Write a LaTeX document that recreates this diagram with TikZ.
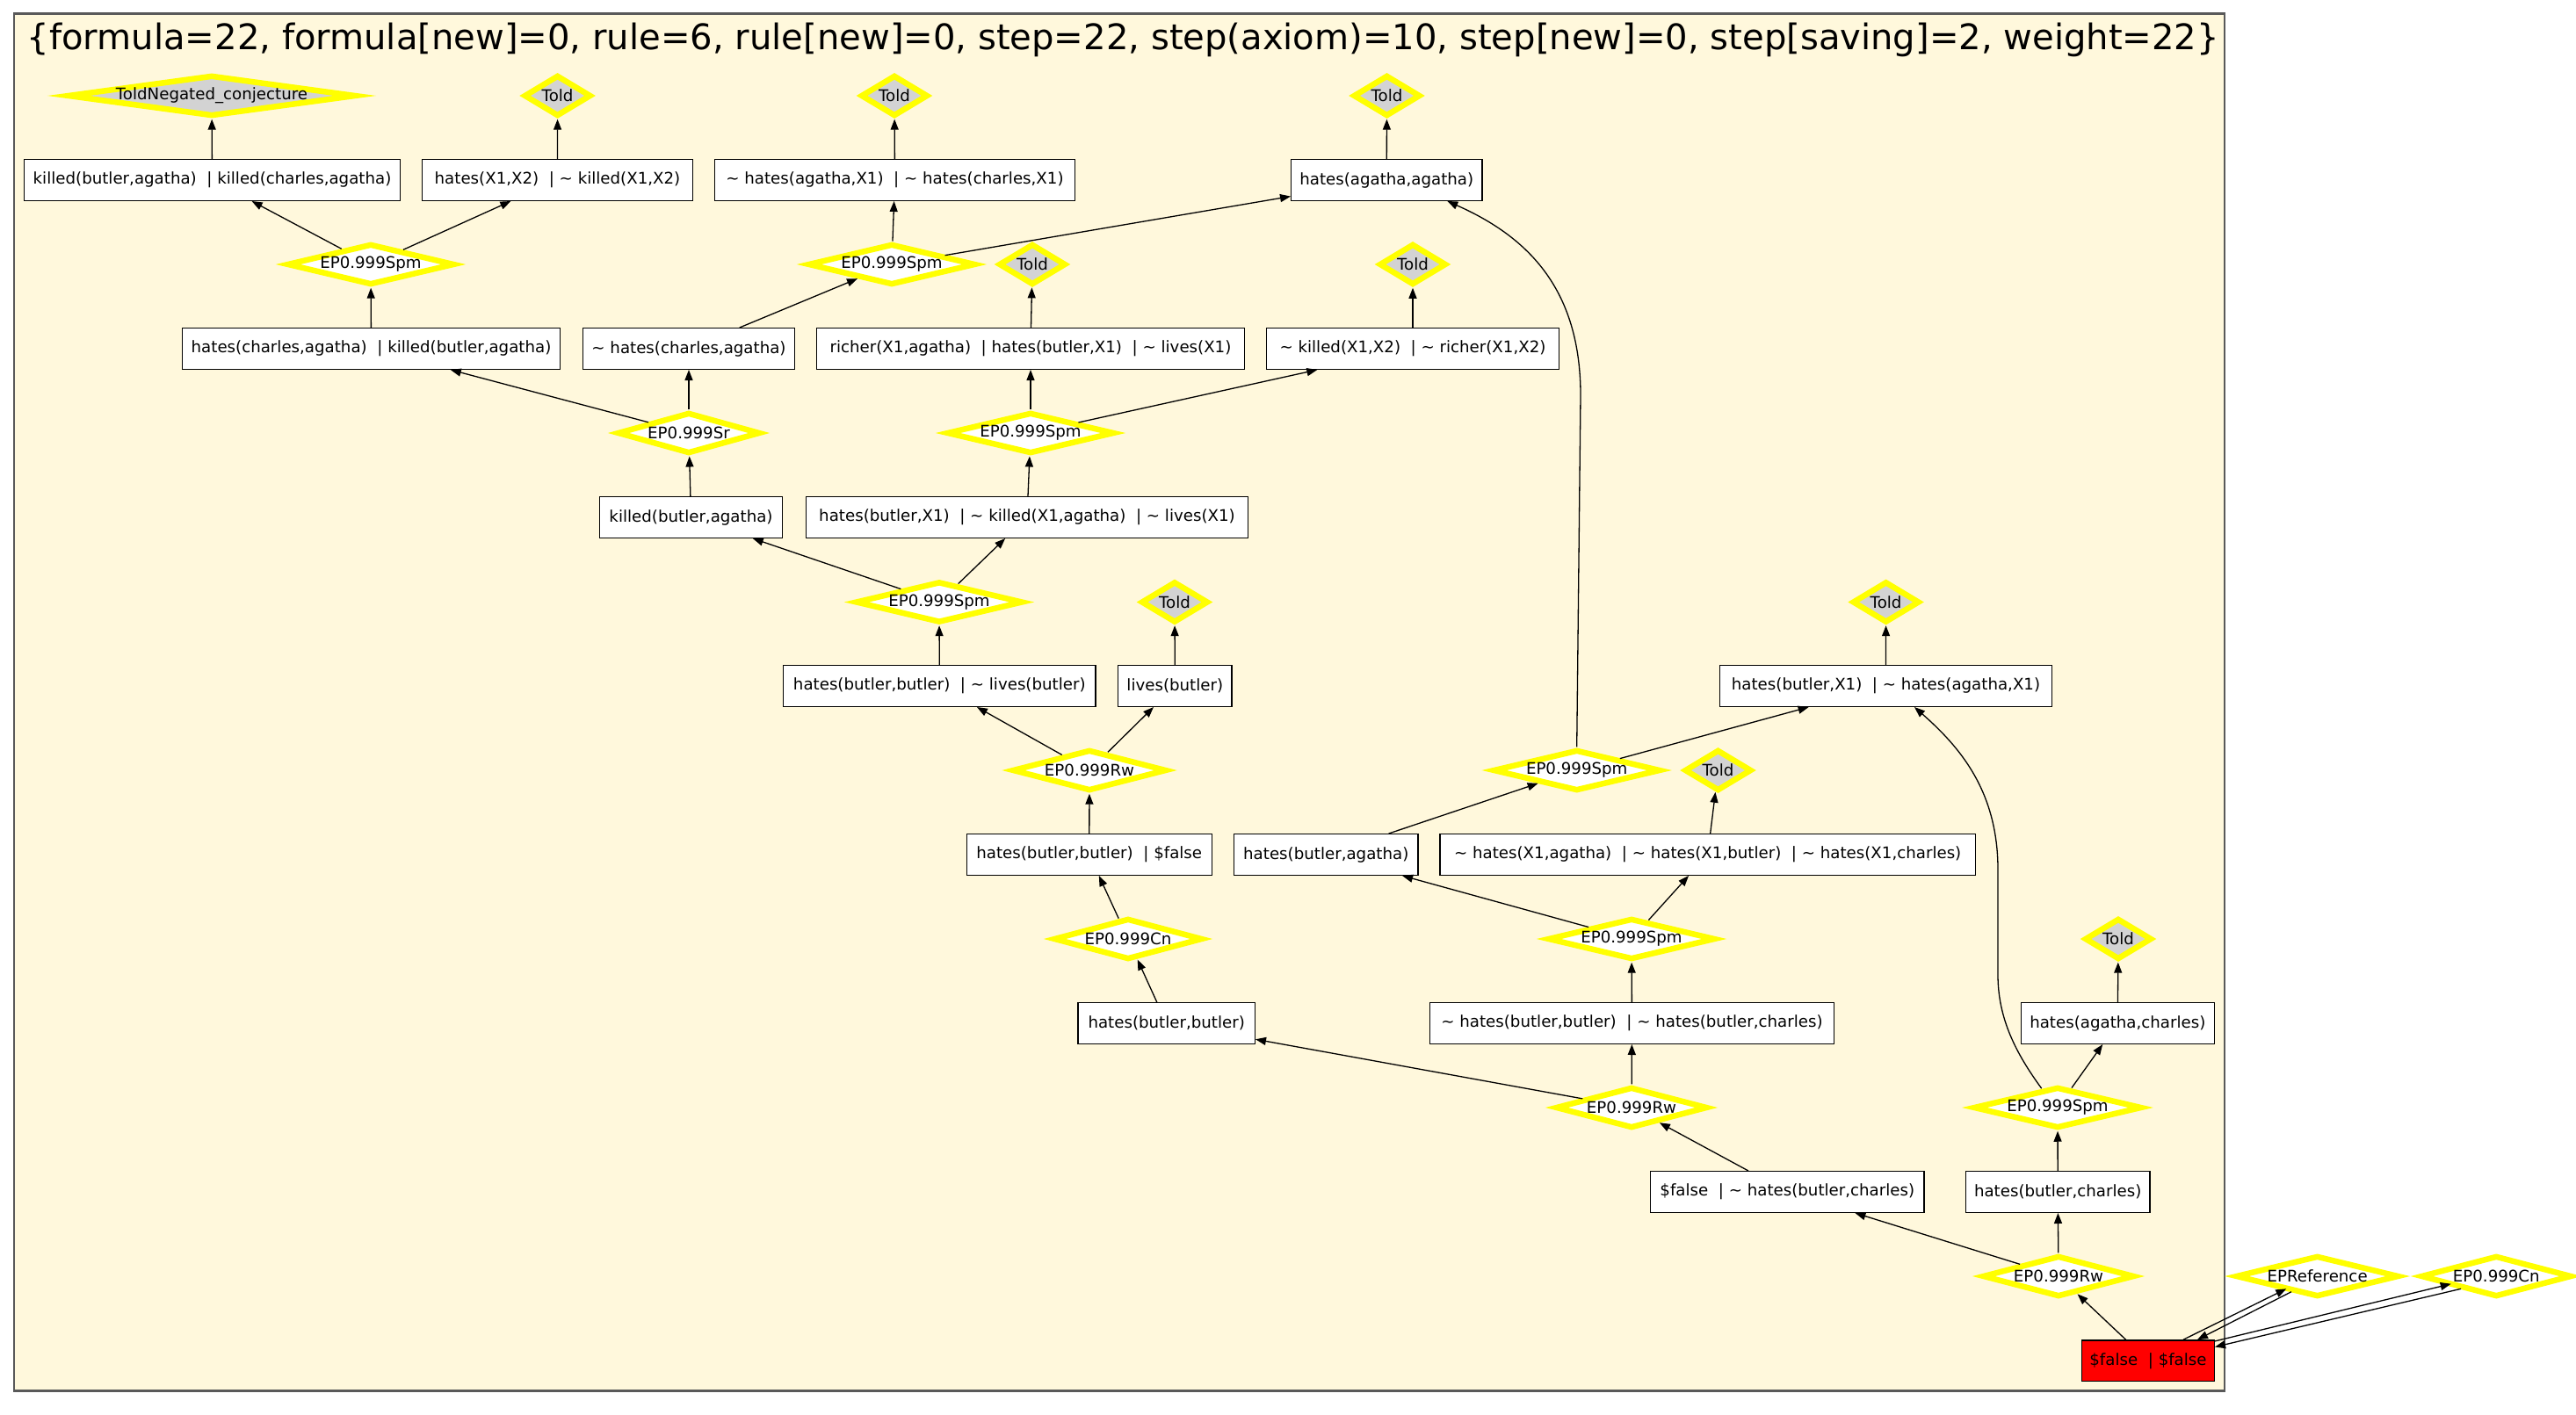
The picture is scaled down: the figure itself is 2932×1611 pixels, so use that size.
\documentclass[tikz,border=0pt]{standalone}
\usepackage{fontspec}
\setmainfont{DejaVu Sans}
\usetikzlibrary{shapes.geometric,arrows.meta}
\definecolor{bgc}{HTML}{FFF8DC}
\definecolor{frm}{HTML}{595959}
\definecolor{toldc}{HTML}{D3D3D3}
\definecolor{ylw}{HTML}{FFFF00}
\newcommand\lblfont{\fontsize{18.2}{22}\selectfont}
\newcommand\ttlfont{\fontsize{40.1}{46}\selectfont}
\newcommand\tld{\textasciitilde}
\begin{document}
\begin{tikzpicture}[x=1pt,y=-1pt,
  box/.style={draw=black,line width=1.3pt,fill=white,minimum height=46.7pt,inner sep=0pt,font=\lblfont},
  dia/.style={shape=diamond,draw=ylw,line width=6.5pt,inner sep=0pt,minimum height=47pt,
    label={[font=\lblfont,inner sep=0pt]center:#1}},
  ep/.style={dia={#1},fill=white},
  toldn/.style={dia={Told},fill=toldc,minimum width=76.6pt},
  arr/.style={-{Triangle[length=12pt,width=9pt]},line width=1.3pt,draw=black}]
\useasboundingbox (0,0) rectangle (2932,1611);
\fill[white] (0,0) rectangle (2932,1611);
\draw[frm,line width=2.4pt,fill=bgc] (16,15.7) rectangle (2532,1583.4);
\node[anchor=base west,font=\ttlfont,inner sep=0pt] (title) at (30.6,57)
  {\{formula=22, formula[new]=0, rule=6, rule[new]=0, step=22, step(axiom)=10, step[new]=0, step[saving]=2, weight=22\}};

% boxes
\node[box,minimum width=427.7pt] (b1) at (241.5,205) {killed(butler,agatha)\ \ | killed(charles,agatha)};
\node[box,minimum width=307.7pt] (b2) at (634.5,205) {hates(X1,X2)\ \ | \tld\ killed(X1,X2)};
\node[box,minimum width=409.7pt] (b3) at (1018.5,205) {\tld\ hates(agatha,X1)\ \ | \tld\ hates(charles,X1)};
\node[box,minimum width=217.2pt] (b4) at (1578.25,205) {hates(agatha,agatha)};
\node[box,minimum width=429.7pt] (b5) at (422.5,397) {hates(charles,agatha)\ \ | killed(butler,agatha)};
\node[box,minimum width=240.7pt] (b6) at (784,397) {\tld\ hates(charles,agatha)};
\node[box,minimum width=486.7pt] (b7) at (1173,397) {richer(X1,agatha)\ \ | hates(butler,X1)\ \ | \tld\ lives(X1)};
\node[box,minimum width=332.7pt] (b8) at (1608,397) {\tld\ killed(X1,X2)\ \ | \tld\ richer(X1,X2)};
\node[box,minimum width=207.7pt] (b9) at (786.5,589) {killed(butler,agatha)};
\node[box,minimum width=502.7pt] (b10) at (1169,589) {hates(butler,X1)\ \ | \tld\ killed(X1,agatha)\ \ | \tld\ lives(X1)};
\node[box,minimum width=355.3pt] (b11) at (1069.3,781) {hates(butler,butler)\ \ | \tld\ lives(butler)};
\node[box,minimum width=129.3pt] (b12) at (1337.3,781) {lives(butler)};
\node[box,minimum width=377.7pt] (b13) at (2146.5,781) {hates(butler,X1)\ \ | \tld\ hates(agatha,X1)};
\node[box,minimum width=279.2pt] (b14) at (1239.75,973) {hates(butler,butler)\ \ | \$false};
\node[box,minimum width=209.7pt] (b15) at (1509.25,973) {hates(butler,agatha)};
\node[box,minimum width=609.3pt] (b16) at (1943.7,973) {\tld\ hates(X1,agatha)\ \ | \tld\ hates(X1,butler)\ \ | \tld\ hates(X1,charles)};
\node[box,minimum width=201.3pt] (b17) at (1327.7,1165) {hates(butler,butler)};
\node[box,minimum width=459.7pt] (b18) at (1857.5,1165) {\tld\ hates(butler,butler)\ \ | \tld\ hates(butler,charles)};
\node[box,minimum width=220.1pt] (b19) at (2410.3,1165) {hates(agatha,charles)};
\node[box,minimum width=311.3pt] (b20) at (2034.3,1357) {\$false\ \ | \tld\ hates(butler,charles)};
\node[box,minimum width=209.5pt] (b21) at (2342.2,1357) {hates(butler,charles)};
\node[box,minimum width=150.7pt,fill=red] (b22) at (2445,1549.2) {\$false\ \ | \$false};

% diamonds
\node[dia={ToldNegated\_conjecture},fill=toldc,minimum width=328.6pt] (d1) at (241,109) {};
\node[toldn] (d2) at (634.6,109) {};
\node[toldn] (d3) at (1018,109) {};
\node[toldn] (d4) at (1578.5,109) {};
\node[ep={EP0.999Spm},minimum width=190.8pt] (dA) at (422,301) {};
\node[ep={EP0.999Spm},minimum width=190.8pt] (dB) at (1015,301) {};
\node[toldn] (d5) at (1175,301) {};
\node[toldn] (d6) at (1608,301) {};
\node[ep={EP0.999Sr},minimum width=162.6pt] (dSr) at (784,493) {};
\node[ep={EP0.999Spm},minimum width=190.8pt] (dD) at (1173,493) {};
\node[ep={EP0.999Spm},minimum width=190.8pt] (dC) at (1069,685.5) {};
\node[toldn] (d7) at (1337,685.5) {};
\node[toldn] (d8) at (2146.6,685.5) {};
\node[ep={EP0.999Rw},minimum width=175.8pt] (dJ) at (1240,877) {};
\node[ep={EP0.999Spm},minimum width=190.8pt] (dE) at (1794.7,877) {};
\node[toldn] (d9) at (1955.5,877) {};
\node[ep={EP0.999Cn},minimum width=169.6pt] (dK) at (1284,1069) {};
\node[ep={EP0.999Spm},minimum width=190.8pt] (dF) at (1857,1069) {};
\node[toldn] (d10) at (2411,1069) {};
\node[ep={EP0.999Rw},minimum width=173pt] (dG) at (1857,1261) {};
\node[ep={EP0.999Spm},minimum width=192pt] (dH) at (2342,1261) {};
\node[ep={EP0.999Rw},minimum width=173pt] (dI) at (2343,1453) {};
\node[ep={EPReference},minimum width=186pt] (dRef) at (2637.6,1453) {};
\node[ep={EP0.999Cn},minimum width=172pt] (dCn) at (2841.3,1453) {};

% edges
\draw[arr] (b1) -- (d1);
\draw[arr] (b2) -- (d2);
\draw[arr] (b3) -- (d3);
\draw[arr] (b4) -- (d4);
\draw[arr] (dA) -- (b1);
\draw[arr] (dA) -- (b2);
\draw[arr] (dB) -- (b3);
\draw[arr] (dB) -- (b4);
\draw[arr] (b5) -- (dA);
\draw[arr] (b6) -- (dB);
\draw[arr] (b7) -- (d5);
\draw[arr] (b8) -- (d6);
\draw[arr] (dSr) -- (b5);
\draw[arr] (dSr) -- (b6);
\draw[arr] (dD) -- (b7);
\draw[arr] (dD) -- (b8);
\draw[arr] (b9) -- (dSr);
\draw[arr] (b10) -- (dD);
\draw[arr] (dC) -- (b9);
\draw[arr] (dC) -- (b10);
\draw[arr] (b11) -- (dC);
\draw[arr] (b12) -- (d7);
\draw[arr] (b13) -- (d8);
\draw[arr] (dJ) -- (b11);
\draw[arr] (dJ) -- (b12);
\draw[arr] (dE.north) -- (1799,450) .. controls (1799,330) and (1740,270) .. ([xshift=69pt]b4.south);
\draw[arr] (dE) -- (b13);
\draw[arr] (b14) -- (dJ);
\draw[arr] (b15) -- (dE);
\draw[arr] (b16) -- (d9);
\draw[arr] (dK) -- (b14);
\draw[arr] (dF) -- (b15);
\draw[arr] (dF) -- (b16);
\draw[arr] (b17) -- (dK);
\draw[arr] (b18) -- (dF);
\draw[arr] (b19) -- (d10);
\draw[arr] (dG) -- (b17);
\draw[arr] (dG) -- (b18);
\draw[arr] (dH.130) .. controls (2295,1200) and (2274,1160) .. (2274,1110) -- (2274,990) .. controls (2274,900) and (2230,850) .. ([xshift=32.5pt]b13.south);
\draw[arr] (dH) -- (b19);
\draw[arr] (b20) -- (dG);
\draw[arr] (b21) -- (dH);
\draw[arr] (dI) -- (b20);
\draw[arr] (dI) -- (b21);
\draw[arr] (b22) -- (dI);
\draw[arr] ([shift={(-36,0)}]b22.north east) -- ([shift={(-35.3,14.3)}]dRef.center);
\draw[arr] ([shift={(-29.6,17.7)}]dRef.center) -- ([shift={(-20,0)}]b22.north east);
\draw[arr] ([shift={(0,1.7)}]b22.north east) -- ([shift={(-51.6,8.7)}]dCn.center);
\draw[arr] ([shift={(-40.3,14.3)}]dCn.center) -- ([shift={(0,8.3)}]b22.north east);
\end{tikzpicture}
\end{document}
